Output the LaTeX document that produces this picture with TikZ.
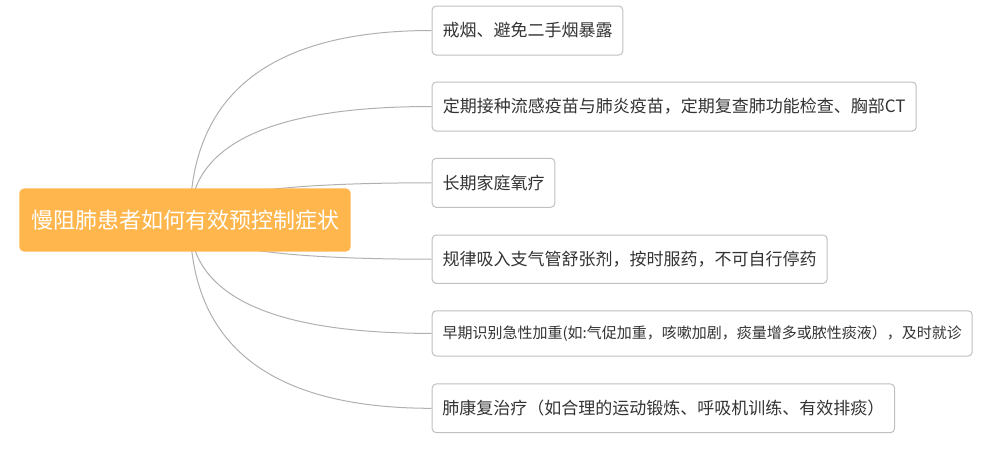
\documentclass[tikz,border=0pt]{standalone}
\usepackage{fontspec}
\setmainfont{Noto Sans CJK SC}
\usetikzlibrary{calc,backgrounds}
\definecolor{rootfill}{RGB}{254,182,77}
\definecolor{boxline}{RGB}{192,192,192}
\definecolor{linkline}{RGB}{176,176,176}
\definecolor{txt}{RGB}{51,51,51}
\tikzset{
  rootbox/.style={fill=rootfill, rounded corners=5pt, text=white,
    font=\fontsize{22}{26}\selectfont, minimum width=331.4pt,
    minimum height=63.4pt, inner sep=0pt},
  leafbox/.style={draw=boxline, line width=1pt, rounded corners=4pt,
    fill=white, text=txt, font=\fontsize{17}{20}\selectfont,
    inner sep=0pt, anchor=west},
  link/.style={draw=linkline, line width=1pt},
}
\begin{document}
\begin{tikzpicture}[x=1pt,y=-1pt]
\useasboundingbox (0,0) rectangle (990,448);
\node[rootbox] (root) at (185,220) {慢阻肺患者如何有效预控制症状};
\coordinate (hub) at ([xshift=5pt]root.center);
\node[leafbox, minimum width=190.6pt, minimum height=49pt] (b1) at (431.7,30.5) {戒烟、避免二手烟暴露};
\node[leafbox, minimum width=484pt, minimum height=49pt] (b2) at (431.7,106.5) {定期接种流感疫苗与肺炎疫苗，定期复查肺功能检查、胸部CT};
\node[leafbox, minimum width=122.6pt, minimum height=49pt] (b3) at (431.7,182.8) {长期家庭氧疗};
\node[leafbox, minimum width=395pt, minimum height=48.3pt] (b4) at (431.7,259.2) {规律吸入支气管舒张剂，按时服药，不可自行停药};
\node[leafbox, minimum width=540pt, minimum height=45.3pt, font=\fontsize{15}{18}\selectfont] (b5) at (431.7,333.4) {早期识别急性加重(如:气促加重，咳嗽加剧，痰量增多或脓性痰液），及时就诊};
\node[leafbox, minimum width=462.3pt, minimum height=48.7pt] (b6) at (431.7,408.3) {肺康复治疗（如合理的运动锻炼、呼吸机训练、有效排痰）};
\begin{scope}[on background layer]
\foreach \b in {b1,b2,b3,b4,b5,b6}
  \draw[link] (hub) .. controls ($(hub)!2/3!(hub |- \b.west)$) and ($(\b.west)!2/3!(hub |- \b.west)$) .. (\b.west);
\end{scope}
\end{tikzpicture}
\end{document}
